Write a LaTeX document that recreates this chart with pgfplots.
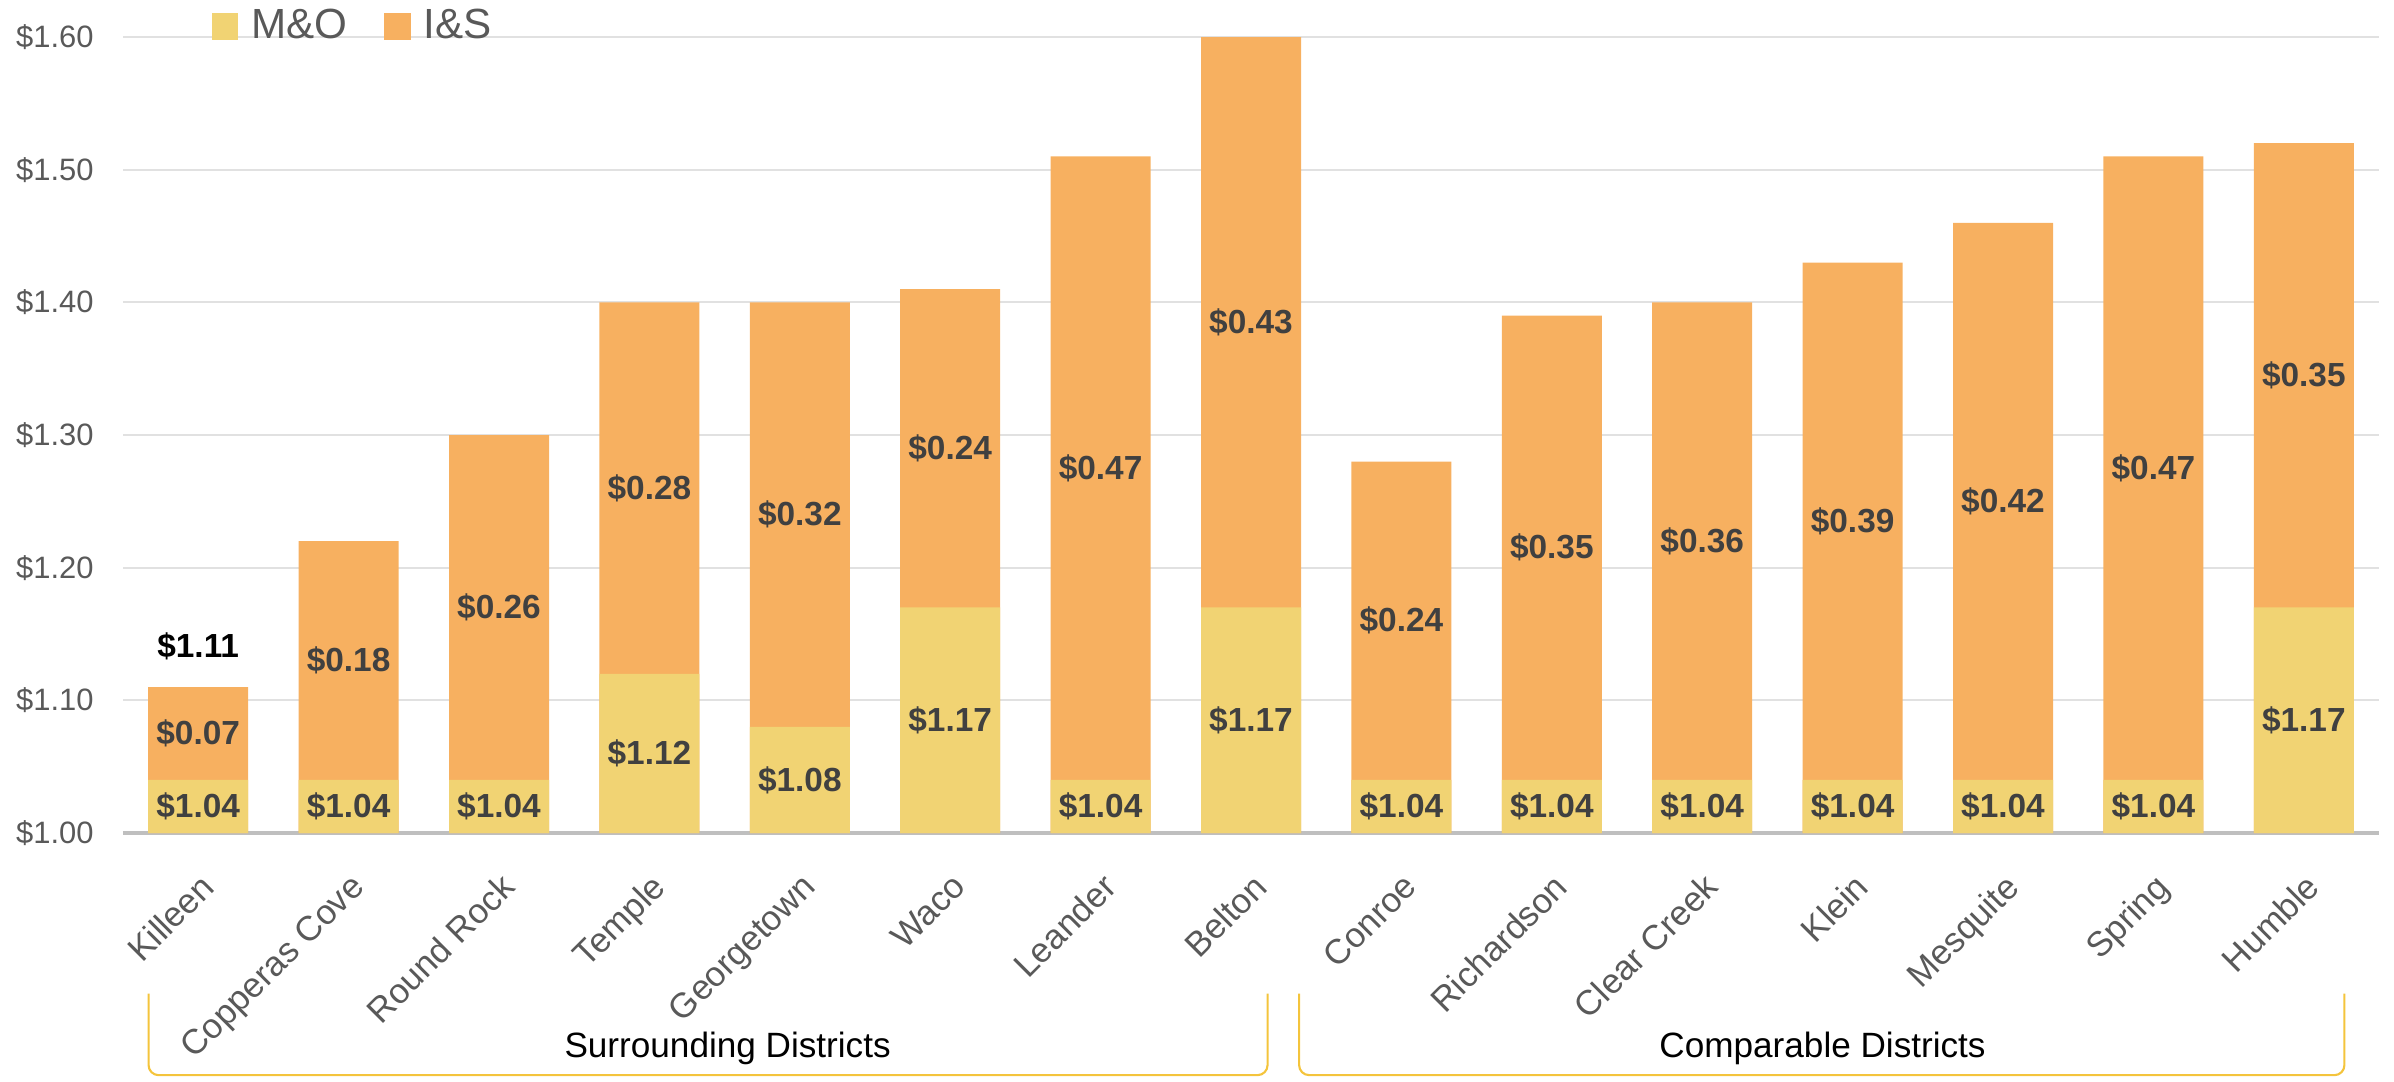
\documentclass[border=0pt]{standalone}
\usepackage{fontspec}
\setmainfont{Liberation Sans}
\usepackage{pgfplots}
\pgfplotsset{compat=1.18}
\usepackage{pgfplotstable}

\definecolor{moc}{RGB}{241,211,115}
\definecolor{isc}{RGB}{247,176,96}
\definecolor{gridc}{RGB}{225,225,225}
\definecolor{basec}{RGB}{191,191,191}
\definecolor{tickc}{RGB}{89,89,89}
\definecolor{labc}{RGB}{64,64,64}
\definecolor{brc}{RGB}{244,196,60}

% tax rates per district: M&O and I&S
\pgfplotstableread{
x mo is
0 1.04 0.07
1 1.04 0.18
2 1.04 0.26
3 1.12 0.28
4 1.08 0.32
5 1.17 0.24
6 1.04 0.47
7 1.17 0.43
8 1.04 0.24
9 1.04 0.35
10 1.04 0.36
11 1.04 0.39
12 1.04 0.42
13 1.04 0.47
14 1.17 0.35
}\rates

\newcommand{\money}[1]{\$\pgfmathprintnumber[fixed,fixed zerofill,precision=2]{#1}}

\begin{document}
\begin{tikzpicture}
\useasboundingbox (-1.23cm,-2.48cm) rectangle (22.71cm,8.33cm);
\begin{axis}[
  name=ax, scale only axis, width=22.56cm, height=7.96cm,
  at={(0,0)}, anchor=south west,
  xmin=-0.5, xmax=14.5, ymin=1, ymax=1.6,
  xtick={0,...,14},
  xticklabels={Killeen,Copperas Cove,Round Rock,Temple,Georgetown,Waco,Leander,Belton,Conroe,Richardson,Clear Creek,Klein,Mesquite,Spring,Humble},
  ytick={1.0,1.1,1.2,1.3,1.4,1.5,1.6},
  yticklabel={\money{\tick}},
  /pgf/number format/assume math mode=true,
  ymajorgrids, grid style={gridc, line width=0.6pt},
  axis x line*=bottom, axis y line*=left,
  y axis line style={draw=none},
  x axis line style={basec, line width=0.9pt, -},
  major tick length=0pt,
  xticklabel style={rotate=45, anchor=north east, xshift=-0.15cm, yshift=-0.15cm, font=\fontsize{9.9}{12}\selectfont, text=tickc},
  yticklabel style={font=\fontsize{8.8}{10}\selectfont, text=tickc, xshift=-0.17cm},
  legend style={at={(0.039,1.013)}, anchor=west, draw=none, fill=none,
    legend columns=2, font=\fontsize{12}{14}\selectfont, text=tickc,
    inner sep=0pt,
    /tikz/every odd column/.append style={column sep=0.06cm},
    /tikz/every even column/.append style={column sep=0.3cm}},
  clip mode=individual,
]
\addlegendimage{legend image code/.code={\fill[moc] (0cm,-0.125cm) rectangle (0.25cm,0.125cm);}}
\addlegendentry{M\&O}
\addlegendimage{legend image code/.code={\fill[isc] (0cm,-0.125cm) rectangle (0.25cm,0.125cm);}}
\addlegendentry{I\&S}

% I&S drawn as full bar, M&O over it
\addplot[ybar, bar width=1cm, bar shift=0pt, fill=isc, draw=none, forget plot]
  table[x=x, y expr=\thisrow{mo}+\thisrow{is}] \rates;
\addplot[ybar, bar width=1cm, bar shift=0pt, fill=moc, draw=none, forget plot]
  table[x=x, y=mo] \rates;

% value labels
\addplot[draw=none, mark=none, forget plot, point meta=explicit,
  nodes near coords={\money{\pgfplotspointmeta}},
  every node near coord/.append style={anchor=center, text=labc, font=\bfseries\fontsize{9.5}{11}\selectfont}]
  table[x=x, y expr=(1+\thisrow{mo})/2, meta=mo] \rates;
\addplot[draw=none, mark=none, forget plot, point meta=explicit,
  nodes near coords={\money{\pgfplotspointmeta}},
  every node near coord/.append style={anchor=center, text=labc, font=\bfseries\fontsize{9.5}{11}\selectfont}]
  table[x=x, y expr=\thisrow{mo}+\thisrow{is}/2, meta=is] \rates;
\addplot[draw=none, mark=none, forget plot, point meta=explicit,
  nodes near coords={\money{\pgfplotspointmeta}},
  every node near coord/.append style={anchor=center, yshift=0.41cm, text=black, font=\bfseries\fontsize{9.5}{11}\selectfont}]
  coordinates {(0,1.11) [1.11]};

\coordinate (A1) at (axis cs:-0.33,0.879);
\coordinate (A2) at (axis cs:7.11,0.8175);
\coordinate (B1) at (axis cs:7.32,0.879);
\coordinate (B2) at (axis cs:14.27,0.8175);
\coordinate (T1) at (axis cs:3.52,0.8376);
\coordinate (T2) at (axis cs:10.8,0.8376);
\end{axis}
\draw[brc, line width=0.6pt, rounded corners=0.1cm] (A1) |- (A2) -- (A2 |- A1);
\draw[brc, line width=0.6pt, rounded corners=0.1cm] (B1) |- (B2) -- (B2 |- B1);
\node[font=\fontsize{10}{12}\selectfont] at (T1) {Surrounding Districts};
\node[font=\fontsize{10}{12}\selectfont] at (T2) {Comparable Districts};
\end{tikzpicture}
\end{document}
